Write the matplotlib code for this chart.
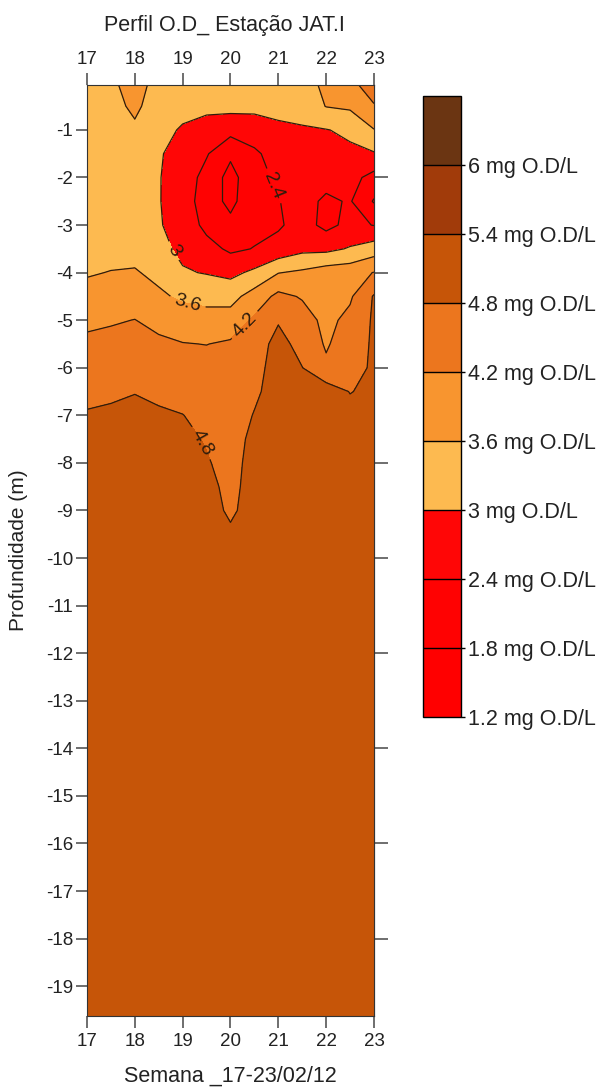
import numpy as np
import matplotlib
matplotlib.use('Agg')
import matplotlib.pyplot as plt

plt.rcParams['font.family'] = ['Liberation Sans', 'DejaVu Sans']
plt.rcParams['axes.unicode_minus'] = False

# semanas (eixo x) e profundidades (m) da grade
semanas = [17, 17.5, 18, 18.5, 19, 19.5, 20, 20.5, 21, 21.5, 22, 22.5, 23]
profundidades = [0, -0.5, -1, -1.5, -2, -2.5, -3, -3.5, -4, -4.5, -5, -5.5,
                 -6, -6.5, -7, -7.5, -8, -8.5, -9, -9.5, -10, -12, -15, -19.7]

# perfis de O.D (mg/L) por semana, de cima para baixo
od_17 = [3.35, 3.35, 3.3, 3.3, 3.25, 3.25, 3.3, 3.4, 3.55, 3.8, 4.1, 4.3,
         4.45, 4.65, 4.85, 4.95, 5.0, 5.0, 5.0, 5.0, 5.0, 5.0, 5.0, 5.0]
od_17_5 = [3.5, 3.4, 3.3, 3.25, 3.2, 3.2, 3.25, 3.4, 3.62, 3.85, 4.15, 4.35,
           4.5, 4.7, 4.9, 5.0, 5.0, 5.0, 5.0, 5.0, 5.0, 5.0, 5.0, 5.0]
od_18 = [3.85, 3.72, 3.5, 3.3, 3.15, 3.1, 3.2, 3.4, 3.65, 3.95, 4.21, 4.4,
         4.55, 4.78, 4.95, 5.0, 5.0, 5.0, 5.0, 5.0, 5.0, 5.0, 5.0, 5.0]
od_18_5 = [3.4, 3.3, 3.15, 3.05, 3.03, 3.03, 3.05, 3.15, 3.45, 3.7, 4.05, 4.3,
           4.5, 4.68, 4.88, 5.0, 5.0, 5.0, 5.0, 5.0, 5.0, 5.0, 5.0, 5.0]
od_19 = [3.3, 3.15, 2.95, 2.8, 2.72, 2.7, 2.75, 2.88, 3.05, 3.5, 3.9, 4.22,
         4.45, 4.62, 4.81, 4.95, 5.0, 5.0, 5.0, 5.0, 5.0, 5.0, 5.0, 5.0]
od_19_5 = [3.25, 3.15, 2.75, 2.45, 2.2, 2.1, 2.25, 2.6, 2.97, 3.4, 3.85, 4.19,
           4.4, 4.55, 4.65, 4.75, 4.85, 4.95, 5.0, 5.0, 5.0, 5.0, 5.0, 5.0]
od_20 = [3.3, 3.18, 2.6, 1.9, 1.6, 1.65, 1.95, 2.3, 2.85, 3.4, 3.85, 4.28,
         4.4, 4.45, 4.5, 4.55, 4.6, 4.66, 4.72, 4.88, 5.0, 5.0, 5.0, 5.0]
od_20_5 = [3.3, 3.15, 2.7, 2.3, 2.2, 2.2, 2.25, 2.42, 3.12, 3.85, 4.3, 4.5,
           4.6, 4.7, 4.83, 4.95, 5.0, 5.0, 5.0, 5.0, 5.0, 5.0, 5.0, 5.0]
od_21 = [3.3, 3.15, 2.9, 2.65, 2.5, 2.38, 2.33, 2.6, 3.58, 4.35, 4.75, 5.0,
         5.05, 5.05, 5.05, 5.0, 5.0, 5.0, 5.0, 5.0, 5.0, 5.0, 5.0, 5.0]
od_21_5 = [3.35, 3.2, 2.95, 2.75, 2.65, 2.6, 2.62, 2.85, 3.7, 4.15, 4.45, 4.6,
           4.81, 5.0, 5.05, 5.0, 5.0, 5.0, 5.0, 5.0, 5.0, 5.0, 5.0, 5.0]
od_22 = [3.75, 3.62, 2.98, 2.75, 2.6, 2.3, 2.25, 2.85, 3.9, 3.95, 4.05, 4.14,
         4.3, 5.1, 5.05, 5.0, 5.0, 5.0, 5.0, 5.0, 5.0, 5.0, 5.0, 5.0]
od_22_5 = [4.05, 3.7, 3.1, 2.9, 2.6, 2.45, 2.55, 3.05, 3.95, 4.12, 4.35, 4.5,
           4.6, 4.78, 4.98, 5.05, 5.0, 5.0, 5.0, 5.0, 5.0, 5.0, 5.0, 5.0]
od_23 = [4.6, 4.15, 3.58, 2.95, 2.2, 1.75, 2.38, 3.3, 4.22, 4.85, 4.88, 4.88,
         4.88, 4.92, 5.0, 5.0, 5.0, 5.0, 5.0, 5.0, 5.0, 5.0, 5.0, 5.0]

niveis = [1.2, 1.8, 2.4, 3.0, 3.6, 4.2, 4.8, 5.4, 6.0, 6.6]
cores = ['#ff0000', '#ff0202', '#ff0606', '#fdba50', '#f8952f',
         '#ec761e', '#c65508', '#a13b0a', '#6b3512']
niveis_rotulados = [2.4, 3.0, 3.6, 4.2, 4.8]

perfis = [od_17, od_17_5, od_18, od_18_5, od_19, od_19_5, od_20, od_20_5,
          od_21, od_21_5, od_22, od_22_5, od_23]
Z = np.column_stack(perfis)
X, Y = np.meshgrid(semanas, profundidades)

fig = plt.figure(figsize=(5.97, 10.88), dpi=100)
ax = fig.add_axes([0.1457, 0.0665, 0.4807, 0.8554])

cf = ax.contourf(X, Y, Z, levels=niveis, colors=cores)
linha_cor = '#2e1c0c'
ax.contour(X, Y, Z, levels=[1.8], colors=linha_cor, linewidths=0.9)
cs = ax.contour(X, Y, Z, levels=niveis_rotulados, colors=linha_cor, linewidths=0.9)
ax.clabel(cs, inline=True, fontsize=14, colors=linha_cor,
          fmt=lambda v: '%g' % v,
          manual=[(20.85, -2.2), (18.72, -3.6), (19.1, -4.64), (20.3, -5.1), (19.35, -7.6)])

ax.set_xlim(17, 23)
ax.set_ylim(-19.62, -0.055)

tick_cor = '#555555'
ax.set_xticks(range(17, 24))
ax.tick_params(axis='x', top=True, labeltop=True, bottom=True, labelbottom=True,
               direction='out', length=8.5, width=1.2, color=tick_cor,
               labelsize=13.5, labelcolor='#222222', pad=4)
ax.set_yticks(range(-1, -20, -1))
ax.set_yticklabels([str(v) for v in range(-1, -20, -1)])
ax.tick_params(axis='y', left=True, right=False, direction='out', length=8,
               width=1.2, color=tick_cor, labelsize=13.5, labelcolor='#222222', pad=2)
for s in ax.spines.values():
    s.set_color('#333333')
    s.set_linewidth(0.8)

sec = ax.secondary_yaxis('right')
sec.set_yticks(range(-2, -19, -2))
sec.set_yticklabels([])
sec.tick_params(direction='out', length=10, width=1.2, color=tick_cor)
sec.spines['right'].set_color('#333333')
sec.spines['right'].set_linewidth(0.8)

fig.text(0.376, 0.977, 'Perfil O.D_ Estação JAT.I', ha='center', va='center',
         fontsize=15.5, color='#222222')
fig.text(0.386, 0.0105, 'Semana _17-23/02/12', ha='center', va='center',
         fontsize=15.5, color='#222222')
fig.text(0.031, 0.494, 'Profundidade (m)', ha='center', va='center',
         rotation=90, fontsize=15, color='#222222')

cax = fig.add_axes([0.7085, 0.341, 0.0637, 0.571])
cb = fig.colorbar(cf, cax=cax, ticks=niveis[:-1], drawedges=True)
cb.ax.set_yticklabels(['%g mg O.D/L' % v for v in niveis[:-1]])
cb.ax.tick_params(length=3, width=1, color='black', labelsize=15.5,
                  labelcolor='#222222', pad=2)
cb.outline.set_color('black')
cb.outline.set_linewidth(1)
cb.dividers.set_color('black')
cb.dividers.set_linewidth(1)

fig.savefig('out.png', dpi=100)
